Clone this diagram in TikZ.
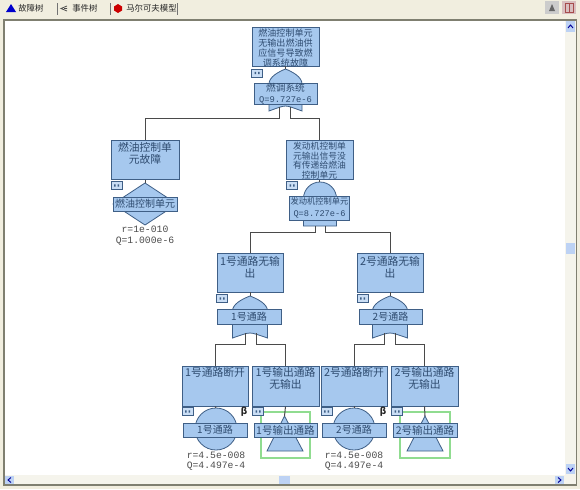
\documentclass[tikz,border=0pt]{standalone}
\usepackage{fontspec}
\setmainfont{Noto Sans CJK SC}
\newfontfamily\numfont{Liberation Mono}
\definecolor{fillb}{HTML}{A6C8EE}
\definecolor{edgeb}{HTML}{3F5F86}
\definecolor{textb}{HTML}{2F4C70}
\definecolor{linec}{HTML}{4A4A4A}
\definecolor{chrome}{HTML}{F1EEDF}
\definecolor{framec}{HTML}{7F7F70}
\definecolor{scrollc}{HTML}{F5F4EC}
\definecolor{thumbc}{HTML}{BDD2F4}
\definecolor{greenb}{HTML}{90DC90}
\lineskiplimit=-20pt
\tikzset{
 x=0.75pt,y=-0.75pt,
 fbox/.style={draw=edgeb,fill=fillb,line width=0.7pt,inner sep=0pt,text=textb},
 gate/.style={draw=edgeb,fill=fillb,line width=0.6pt},
 wire/.style={draw=linec,line width=0.75pt},
 valtext/.style={font=\numfont\fontsize{7.3}{8}\selectfont,text=black!70,align=center,inner sep=0pt},
 tabtext/.style={font=\fontsize{6.3}{7}\selectfont,text=black!85,inner sep=0pt,anchor=west},
 tabsep/.style={draw=black!55,line width=0.5pt},
}
% name, cx, cy, w, h, font size, text (top aligned)
\newcommand\ftbox[7]{\node[fbox,minimum width=#4*0.75pt,minimum height=#5*0.75pt] (#1) at (#2,#3)
 {\parbox[c][\dimexpr #5pt*3/4\relax][t]{\dimexpr #4pt*3/4\relax}{\centering\fontsize{#6}{#6}\selectfont\baselineskip=\dimexpr #6pt*11/10\relax\lineskiplimit=-20pt\vspace{1.2pt}#7\par}};}
% label box: name, cx, cy, w, h, text
\newcommand\lbbox[6]{\node[fbox,minimum width=#4*0.75pt,minimum height=#5*0.75pt] (#1) at (#2,#3)
 {\parbox[c][\dimexpr #5pt*3/4\relax][c]{\dimexpr #4pt*3/4\relax}{\centering\lineskiplimit=-20pt #6\par}};}
\newcommand\minibox[3]{\node[draw=edgeb,fill=fillb!60,line width=0.5pt,minimum width=8pt,minimum height=6.2pt,inner sep=0pt] (#1) at (#2,#3) {};
 \fill[edgeb] ({#2-2.5},{#3-1.2}) rectangle ({#2-1},{#3+1.2}) ({#2+1},{#3-1.2}) rectangle ({#2+2.5},{#3+1.2});}
% or gate: cx, ytop, halfwidth, ytip
\newcommand\orgate[4]{\path[gate] (#1,#2) .. controls ({#1-0.45*#3},{#2+3}) and ({#1-#3},{#2+8}) .. ({#1-#3},{#2+15}) -- ({#1-#3},#4)
 .. controls ({#1-0.5*#3},{#4-3}) and ({#1-0.2*#3},{#4-5}) .. (#1,{#4-5})
 .. controls ({#1+0.2*#3},{#4-5}) and ({#1+0.5*#3},{#4-3}) .. ({#1+#3},#4) -- ({#1+#3},{#2+15})
 .. controls ({#1+#3},{#2+8}) and ({#1+0.45*#3},{#2+3}) .. (#1,#2) -- cycle;}
\begin{document}
\begin{tikzpicture}
\useasboundingbox (0,0) rectangle (580,489);
% window chrome
\fill[chrome] (0,0) rectangle (580,489);
\fill[white] (4,20) rectangle (576,485);
\draw[framec,line width=0.9pt] (4,20) rectangle (576,485);
\fill[scrollc] (565,21) rectangle (575.5,484);
\fill[scrollc] (5,475) rectangle (575.5,484);
\fill[thumbc] (566,243) rectangle (575,254);
\fill[thumbc] (279,475.5) rectangle (290,484);
\fill[thumbc] (566,21) rectangle (575,32);
\fill[thumbc] (566,464) rectangle (575,474);
\fill[thumbc] (5,475.5) rectangle (14,484);
\fill[thumbc] (555,475.5) rectangle (564,484);
\draw[blue!60!black,line width=0.7pt] (568,28) -- (570.5,25) -- (573,28);
\draw[blue!60!black,line width=0.7pt] (568,468) -- (570.5,471) -- (573,468);
\draw[blue!60!black,line width=0.7pt] (11,477.5) -- (8,480) -- (11,482.5);
\draw[blue!60!black,line width=0.7pt] (558,477.5) -- (561,480) -- (558,482.5);
% toolbar
\fill[blue!80!black] (6,12) -- (11,4) -- (16,12) -- cycle;
\node[tabtext] (t1) at (18,8) {故障树};
\draw[tabsep] (57,3) -- (57,15);
\draw[black!70,line width=0.6pt] (67,6) -- (61,8.5) -- (67,11) (64,8.5) -- (67,8.5);
\node[tabtext] (t2) at (72,8.5) {事件树};
\draw[tabsep] (110,3) -- (110,15);
\fill[red!80!black] (118,4) -- (122,6.5) -- (122,10.5) -- (118,13) -- (114,10.5) -- (114,6.5) -- cycle;
\node[tabtext] (t3) at (126,8.5) {马尔可夫模型};
\draw[tabsep] (177.5,3) -- (177.5,15);
\fill[black!20] (545,1) rectangle (559,14);
\fill[black!60] (549,11) -- (552,4) -- (555,11) -- cycle;
\fill[red!40!black!25] (562,1) rectangle (576,14);
\draw[red!50!black!70,line width=0.7pt] (565,3) rectangle (573,12) (569,3) -- (569,12);

% gates (behind their labels)
\orgate{285.5}{69}{16.5}{111}
\path[gate] (145,183) -- (177,204) -- (145,225) -- (113,204) -- cycle;
\path[gate] (303.5,226) -- (303.5,198.5) arc[start angle=180,end angle=360,radius=16.5] -- (336.5,226) -- cycle;
\orgate{250}{296}{17.5}{338}
\orgate{390}{296}{17.5}{338}
\node[gate,circle,minimum size=42*0.75pt,inner sep=0pt] (c1) at (216,429) {};
\node[gate,circle,minimum size=42*0.75pt,inner sep=0pt] (c2) at (354,429) {};
\path[gate] (284.5,416) -- (303,451) -- (267,451) -- cycle;
\path[gate] (425,416) -- (443,451) -- (407,451) -- cycle;
\draw[greenb,line width=0.9pt] (261,412) rectangle (310,458);
\draw[greenb,line width=0.9pt] (400,412) rectangle (450,458);

% event boxes
\ftbox{top}{285.5}{46.5}{67}{39}{6.8}{燃油控制单元\\无输出燃油供\\应信号导致燃\\调系统故障}
\ftbox{left}{145}{160}{68}{39}{8.1}{燃油控制单\\元故障}
\ftbox{right}{319.5}{160}{67}{39}{6.6}{发动机控制单\\元输出信号没\\有传递给燃油\\控制单元}
\ftbox{p1}{250}{272.5}{66}{39}{8.1}{\vspace{1.5pt}1号通路无输\\出}
\ftbox{p2}{390}{272.5}{66}{39}{8.1}{\vspace{1.5pt}2号通路无输\\出}
\ftbox{b1}{215}{386}{66}{40}{8.1}{1号通路断开}
\ftbox{b2}{285.5}{386}{67}{40}{8.1}{1号输出通路\\无输出}
\ftbox{b3}{354}{386}{66}{40}{8.1}{2号通路断开}
\ftbox{b4}{424.5}{386}{67}{40}{8.1}{2号输出通路\\无输出}

% gate labels
\lbbox{ltop}{285.5}{93.5}{63}{21}{\fontsize{7.3}{8}\selectfont 燃调系统\\\numfont\fontsize{6.6}{8}\selectfont Q=9.727e-6}
\lbbox{lleft}{145}{204}{64}{14}{\fontsize{7.5}{8}\selectfont 燃油控制单元}
\lbbox{lright}{319.5}{208}{60}{24}{\fontsize{6.2}{9}\selectfont 发动机控制单元\\\numfont\fontsize{6.5}{9}\selectfont Q=8.727e-6}
\lbbox{lp1}{249}{316.5}{64}{15}{\fontsize{7.5}{8}\selectfont 1号通路}
\lbbox{lp2}{390.5}{316.5}{63}{15}{\fontsize{7.5}{8}\selectfont 2号通路}
\lbbox{lb1}{215}{430}{64}{14}{\fontsize{7.5}{8}\selectfont 1号通路}
\lbbox{lb2}{285.5}{430}{63}{14}{\fontsize{7.9}{8}\selectfont 1号输出通路}
\lbbox{lb3}{354}{430}{64}{14}{\fontsize{7.5}{8}\selectfont 2号通路}
\lbbox{lb4}{425}{430}{64}{14}{\fontsize{7.9}{8}\selectfont 2号输出通路}

% transfer boxes
\minibox{m1}{257}{73}
\minibox{m2}{116.5}{185.5}
\minibox{m3}{292}{185.5}
\minibox{m4}{222}{298.5}
\minibox{m5}{362.5}{298.5}
\minibox{m6}{187.5}{411.5}
\minibox{m7}{258}{411.5}
\minibox{m8}{326.5}{411.5}
\minibox{m9}{397}{411.5}

% named connector ends
\coordinate (a1) at (285.5,69);
\coordinate (o1L) at (279,107);
\coordinate (o1R) at (290,107);
\coordinate (bus1L) at (279,118);
\coordinate (bus1R) at (290,118);
\coordinate (a2) at (145,183);
\coordinate (a3) at (319.5,182);
\coordinate (o3L) at (315,226);
\coordinate (o3R) at (325,226);
\coordinate (bus3L) at (315,232);
\coordinate (bus3R) at (325,232);
\coordinate (a4) at (250,296);
\coordinate (a5) at (390,296);
\coordinate (o4L) at (245,333);
\coordinate (o4R) at (256,333);
\coordinate (bus4L) at (245,344);
\coordinate (bus4R) at (256,344);
\coordinate (o5L) at (384.5,333);
\coordinate (o5R) at (395,333);
\coordinate (bus5L) at (384.5,344);
\coordinate (bus5R) at (395,344);
\coordinate (a6) at (284.5,416);
\coordinate (a7) at (425,416);

% connectors
\draw[wire] (top.south) -- (a1);
\draw[wire] (o1L) -- (bus1L) -| (left.north);
\draw[wire] (o1R) -- (bus1R) -| (right.north);
\draw[wire] (left.south) -- (a2);
\draw[wire] (right.south) -- (a3);
\draw[wire] (o3L) -- (bus3L) -| (p1.north);
\draw[wire] (o3R) -- (bus3R) -| (p2.north);
\draw[wire] (p1.south) -- (a4);
\draw[wire] (p2.south) -- (a5);
\draw[wire] (o4L) -- (bus4L) -| (b1.north);
\draw[wire] (o4R) -- (bus4R) -| (b2.north);
\draw[wire] (o5L) -- (bus5L) -| (b3.north);
\draw[wire] (o5R) -- (bus5R) -| (b4.north);
\draw[wire] (b1.south) -- (c1.north);
\draw[wire] (b2.south) -- (a6);
\draw[wire] (b3.south) -- (c2.north);
\draw[wire] (b4.south) -- (a7);

% values
\node[valtext] (v1) at (145,235.5) {r=1e-010\\Q=1.000e-6};
\node[valtext] (v2) at (216,461) {r=4.5e-008\\Q=4.497e-4};
\node[valtext] (v3) at (354,461) {r=4.5e-008\\Q=4.497e-4};
\node[font=\fontsize{7}{8}\selectfont\bfseries,text=black!85,inner sep=0pt] (be1) at (244,412) {β};
\node[font=\fontsize{7}{8}\selectfont\bfseries,text=black!85,inner sep=0pt] (be2) at (383,412) {β};
\end{tikzpicture}
\end{document}
